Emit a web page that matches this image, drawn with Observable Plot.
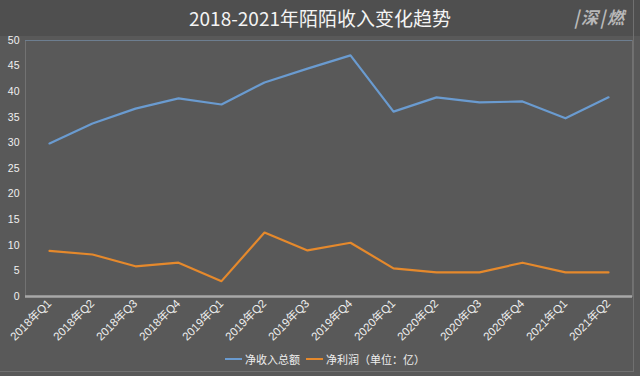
<!DOCTYPE html>
<html>
<head>
<meta charset="utf-8">
<script src="https://cdn.jsdelivr.net/npm/d3@7"></script>
<script src="https://cdn.jsdelivr.net/npm/@observablehq/plot@0.6"></script>
<style>
  html, body { margin: 0; padding: 0; background: #585858; }
  #wrap { position: relative; width: 640px; height: 376px; background: #595959; overflow: hidden;
          font-family: "Noto Sans CJK SC", "Noto Sans", sans-serif; }
  #titlebar { position: absolute; left: 0; top: 0; width: 640px; height: 36px; background: #4f4f4f; }
  #title { position: absolute; left: 0; top: 5px; width: 640px; text-align: center; color: #f4f4f4;
           font-size: 19px; line-height: 26px; }
  #logo { position: absolute; right: 14px; top: 7px; color: #b8b8b8; font-size: 17px; font-weight: bold;
          font-style: italic; letter-spacing: 2px; line-height: 20px; }
  #chart { position: absolute; left: 0; top: 30px; }
  #legend { position: absolute; left: 0; top: 350px; width: 640px; display: flex; justify-content: center;
            align-items: center; color: #eeeeee; font-size: 11px; line-height: 18px; padding-left: 10px; box-sizing: border-box; }
  .sw { display: inline-block; width: 17px; height: 2px; margin-right: 3px; }
  .item { display: flex; align-items: center; margin: 0 3px; }
  #outer { position: absolute; left: 0; top: 0; width: 633px; height: 371px; border-right: 1px solid #707070;
           border-bottom: 1px solid #707070; pointer-events: none; }
</style>
</head>
<body>
<div id="wrap">
  <div id="titlebar"></div>
  <div id="title">2018-2021年陌陌收入变化趋势</div>
  <div id="logo">|深|燃</div>
  <div id="chart"></div>
  <div id="legend"></div>
  <div id="outer"></div>
</div>
<script>
const quarters = ["2018年Q1","2018年Q2","2018年Q3","2018年Q4","2019年Q1","2019年Q2","2019年Q3","2019年Q4","2020年Q1","2020年Q2","2020年Q3","2020年Q4","2021年Q1","2021年Q2"];
const revenue = [29.9, 33.8, 36.7, 38.7, 37.5, 41.8, 44.5, 47.1, 36.1, 38.9, 37.9, 38.1, 34.8, 38.9];
const netProfit = [8.9, 8.2, 5.9, 6.6, 3.0, 12.5, 9.0, 10.5, 5.5, 4.7, 4.7, 6.6, 4.7, 4.7];
const seriesNames = ["净收入总额", "净利润（单位：亿）"];
const seriesColors = ["#6a9bd0", "#e5892c"];
const yTicks = [0, 5, 10, 15, 20, 25, 30, 35, 40, 45, 50];

const rows = [];
quarters.forEach((q, i) => {
  rows.push({q, v: revenue[i], s: seriesNames[0]});
  rows.push({q, v: netProfit[i], s: seriesNames[1]});
});

const chart = Plot.plot({
  width: 640,
  height: 320,
  marginLeft: 25,
  marginRight: 8,
  marginTop: 10,
  marginBottom: 54,
  style: {background: "transparent", color: "#eeeeee", fontFamily: "'Liberation Sans', 'Noto Sans CJK SC', sans-serif"},
  x: {type: "point", domain: quarters, padding: 0.5},
  y: {domain: [0, 50], ticks: yTicks},
  color: {domain: seriesNames, range: seriesColors},
  marks: [
    Plot.frame({anchor: "left", stroke: "#727272"}),
    Plot.frame({anchor: "right", stroke: "#727272"}),
    Plot.ruleY([50], {stroke: "#6d7e90", strokeWidth: 1}),
    Plot.axisY({ticks: yTicks, tickSize: 0, tickPadding: 6, fontSize: 10.5, fill: "#f0f0f0", label: null}),
    Plot.axisX({tickSize: 0, tickRotate: -45, tickPadding: 5, fontSize: 11.5, fill: "#eeeeee", label: null}),
    Plot.lineY(rows, {x: "q", y: "v", stroke: "s", z: "s", strokeWidth: 2.2}),
    Plot.ruleY([0], {stroke: "#a8a8a8", strokeWidth: 2.5})
  ]
});
document.getElementById("chart").appendChild(chart);

const legend = document.getElementById("legend");
seriesNames.forEach((n, i) => {
  const it = document.createElement("span");
  it.className = "item";
  const sw = document.createElement("span");
  sw.className = "sw";
  sw.style.background = seriesColors[i];
  it.appendChild(sw);
  it.appendChild(document.createTextNode(n));
  legend.appendChild(it);
});
</script>
</body>
</html>
